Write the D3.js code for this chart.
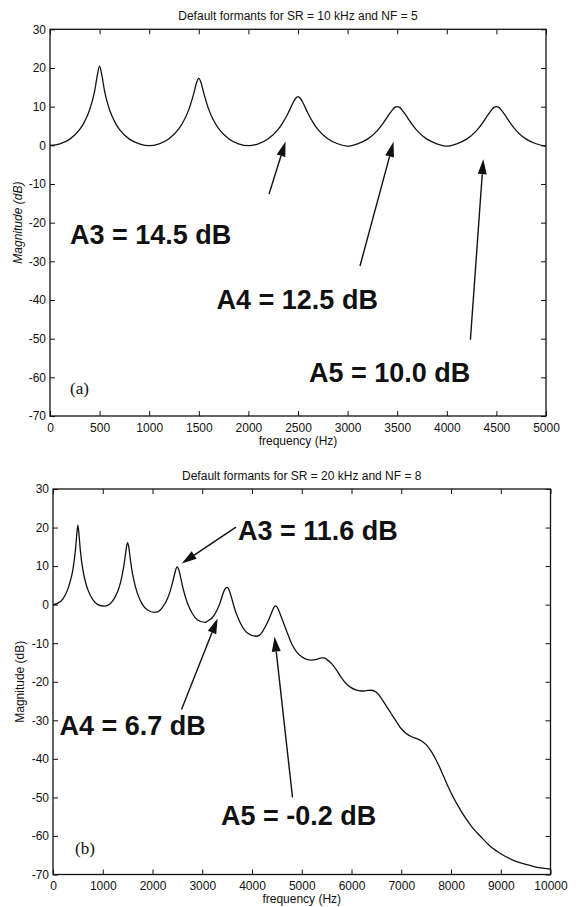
<!DOCTYPE html>
<html>
<head>
<meta charset="utf-8">
<script src="https://cdn.jsdelivr.net/npm/d3@7"></script>
<style>
body { margin: 0; background: #fff; }
text { font-family: "Liberation Sans", Arial, Helvetica, sans-serif; fill: #111; }
</style>
</head>
<body>
<script>
// Panel (a) : SR = 10 kHz, NF = 5
const freqA = [
  0, 100, 200, 300, 350, 400, 450, 475, 500, 525, 550, 600, 650, 700, 800, 900,
  1000, 1100, 1200, 1300, 1350, 1400, 1450, 1475, 1500, 1525, 1550, 1600, 1650, 1700, 1800, 1900,
  2000, 2100, 2200, 2300, 2350, 2400, 2450, 2475, 2500, 2525, 2550, 2600, 2650, 2700, 2800, 2900,
  3000, 3100, 3200, 3300, 3350, 3400, 3450, 3475, 3500, 3525, 3550, 3600, 3650, 3700, 3800, 3900,
  4000, 4100, 4200, 4300, 4350, 4400, 4450, 4475, 4500, 4525, 4550, 4600, 4650, 4700, 4800, 4900,
  5000];
const magA = [
  0, 0.4, 1.6, 4.1, 6.2, 9.2, 14.0, 17.8, 20.5, 17.8, 14.0, 9.2, 6.2, 4.1, 1.6, 0.4,
  -0.1, 0.4, 1.7, 4.3, 6.4, 9.3, 13.5, 16.0, 17.3, 16.0, 13.5, 9.3, 6.4, 4.3, 1.7, 0.4,
  -0.1, 0.4, 1.7, 4.1, 6.0, 8.3, 11.0, 12.1, 12.6, 12.1, 11.0, 8.3, 6.0, 4.1, 1.7, 0.4,
  -0.2, 0.4, 1.6, 3.8, 5.4, 7.3, 9.1, 9.8, 10.0, 9.8, 9.1, 7.3, 5.4, 3.8, 1.6, 0.4,
  -0.2, 0.4, 1.6, 3.8, 5.4, 7.3, 9.1, 9.8, 10.0, 9.8, 9.1, 7.3, 5.4, 3.8, 1.6, 0.4,
  -0.3];

// Panel (b) : SR = 20 kHz, NF = 8
const freqB = [
  0, 100, 200, 300, 350, 400, 450, 475, 500, 525, 550, 600, 650, 700, 800, 900,
  1030, 1100, 1200, 1300, 1350, 1400, 1450, 1475, 1500, 1525, 1550, 1600, 1650, 1700, 1800, 1900,
  2040, 2100, 2200, 2300, 2350, 2400, 2450, 2475, 2500, 2525, 2550, 2600, 2650, 2700, 2800, 2900,
  3060, 3100, 3200, 3300, 3350, 3400, 3450, 3475, 3500, 3525, 3550, 3600, 3650, 3700, 3800, 3900,
  4080, 4150, 4200, 4300, 4350, 4400, 4450, 4475, 4500, 4550, 4600, 4650, 4700, 4800, 4900, 5000,
  5100, 5200, 5300, 5400, 5450, 5500, 5600, 5700, 5800, 5900, 6000, 6100, 6200, 6300, 6400, 6500,
  6600, 6700, 6800, 6900, 7000, 7100, 7200, 7300, 7400, 7500, 7600, 7700, 7800, 7900, 8000,
  8200, 8400, 8600, 8800, 9000, 9200, 9400, 9600, 9800, 10000];
const magB = [
  0, 0.4, 1.5, 4.1, 6.2, 9.1, 14.0, 17.8, 20.6, 17.8, 14.0, 9.1, 6.0, 3.9, 1.3, 0.0,
  -0.4, -0.2, 1.0, 3.4, 5.4, 8.3, 12.4, 14.8, 16.1, 14.8, 12.2, 7.9, 5.0, 2.8, 0.0, -1.4,
  -2.0, -1.9, -0.7, 1.5, 3.3, 5.6, 8.2, 9.4, 9.8, 9.2, 8.0, 5.0, 2.5, 0.5, -2.3, -3.9,
  -4.6, -4.3, -3.4, -1.3, 0.2, 2.2, 3.9, 4.3, 4.5, 4.2, 3.4, 1.3, -1.0, -2.8, -5.6, -7.3,
  -8.2, -7.9, -7.2, -4.9, -3.5, -1.9, -0.5, -0.3, -0.5, -1.9, -3.6, -5.3, -7.0, -10.2, -12.3, -13.5,
  -14.2, -14.4, -14.2, -13.8, -13.8, -14.2, -15.3, -17.0, -19.0, -20.6, -21.6, -22.2, -22.4, -22.3, -22.2, -22.7,
  -24.3, -26.3, -28.3, -30.3, -32.2, -33.4, -34.2, -34.7, -35.3, -36.3, -38.0, -40.3, -43.0, -46.0, -48.8,
  -53.5, -57.3, -60.2, -62.8, -64.6, -66.0, -67.0, -67.7, -68.3, -68.6];

// tick labels
const yTicks = [30, 20, 10, 0, -10, -20, -30, -40, -50, -60, -70];
const xTicksA = [0, 500, 1000, 1500, 2000, 2500, 3000, 3500, 4000, 4500, 5000];
const xTicksB = [0, 1000, 2000, 3000, 4000, 5000, 6000, 7000, 8000, 9000, 10000];

// annotations, in data units (Hz, dB)
const labelsA = [
  {text: "A3 = 14.5 dB", f: 202, m: -25.5},
  {text: "A4 = 12.5 dB", f: 1679, m: -42.3},
  {text: "A5 = 10.0 dB", f: 2611, m: -61.1}];
const arrowsA = [
  {f0: 2208, m0: -12.6, f1: 2374, m1: 1.0},
  {f0: 3125, m0: -31.2, f1: 3463, m1: 0.9},
  {f0: 4238, m0: -50.3, f1: 4368, m1: -3.6}];
const labelsB = [
  {text: "A3 = 11.6 dB", f: 3719, m: 16.8},
  {text: "A4 = 6.7 dB", f: 129, m: -33.8},
  {text: "A5 = -0.2 dB", f: 3377, m: -57.1}];
const arrowsB = [
  {f0: 3678, m0: 20.1, f1: 2587, m1: 10.7},
  {f0: 2583, m0: -27.2, f1: 3308, m1: -3.6},
  {f0: 4814, m0: -50.0, f1: 4454, m1: -8.3}];

const svg = d3.select("body").append("svg")
    .attr("width", 581)
    .attr("height", 907);

// plain numbers, hyphen minus, no thousands separator
const plain = d => String(d);

function drawPanel(p) {
    const x = d3.scaleLinear().domain([0, p.xMax]).range([p.left, p.right]);
    const y = d3.scaleLinear().domain([-70, 30]).range([p.bottom, p.top]);
    const g = svg.append("g");

    // axes, ticks pointing inwards like matlab
    g.append("g")
        .attr("transform", `translate(0,${p.bottom})`)
        .call(d3.axisBottom(x).tickValues(p.xTicks).tickFormat(plain)
            .tickSizeInner(-5).tickSizeOuter(0).tickPadding(7));
    g.append("g")
        .attr("transform", `translate(0,${p.top})`)
        .call(d3.axisTop(x).tickValues(p.xTicks).tickSizeInner(-5).tickSizeOuter(0).tickFormat(""));
    g.append("g")
        .attr("transform", `translate(${p.left},0)`)
        .call(d3.axisLeft(y).tickValues(yTicks).tickFormat(plain)
            .tickSizeInner(-5).tickSizeOuter(0).tickPadding(4));
    g.append("g")
        .attr("transform", `translate(${p.right},0)`)
        .call(d3.axisRight(y).tickValues(yTicks).tickSizeInner(-5).tickSizeOuter(0).tickFormat(""));
    g.selectAll(".domain").remove();
    g.selectAll(".tick line").attr("stroke", "#111").attr("stroke-width", 1);
    g.selectAll(".tick text")
        .style("font-family", '"Liberation Sans", Arial, sans-serif')
        .style("font-size", "12px")
        .attr("fill", "#111");

    g.append("rect")
        .attr("x", p.left).attr("y", p.top)
        .attr("width", p.right - p.left).attr("height", p.bottom - p.top)
        .attr("fill", "none").attr("stroke", "#111").attr("stroke-width", 1.3);

    // title and axis labels
    g.append("text")
        .attr("x", (p.left + p.right) / 2).attr("y", p.top - 9.5)
        .attr("text-anchor", "middle").style("font-size", "12px")
        .text(p.title);
    g.append("text")
        .attr("x", (p.left + p.right) / 2).attr("y", p.bottom + 28.5)
        .attr("text-anchor", "middle").style("font-size", "12px")
        .text("frequency (Hz)");
    g.append("text")
        .attr("transform", `translate(${p.ylabX},${(p.top + p.bottom) / 2}) rotate(-90)`)
        .attr("text-anchor", "middle").style("font-size", "12px")
        .style("font-style", p.italic ? "italic" : "normal")
        .text("Magnitude (dB)");

    // response curve
    const line = d3.line()
        .x(d => x(d[0]))
        .y(d => y(d[1]))
        .curve(d3.curveMonotoneX);
    g.append("path")
        .datum(d3.zip(p.freq, p.mag))
        .attr("d", line)
        .attr("fill", "none")
        .attr("stroke", "#111")
        .attr("stroke-width", 1.3);

    // panel letter
    g.append("text")
        .attr("x", x(p.letterPos[0])).attr("y", y(p.letterPos[1]))
        .style("font-family", '"Liberation Serif", "Times New Roman", serif')
        .style("font-size", "17px")
        .text(p.letter);

    // bold annotations
    g.selectAll(".ann").data(p.labels).enter().append("text")
        .attr("x", d => x(d.f)).attr("y", d => y(d.m))
        .style("font-size", "27px").style("font-weight", "bold")
        .text(d => d.text);

    // arrows
    p.arrows.forEach(a => {
        const x0 = x(a.f0), y0 = y(a.m0), x1 = x(a.f1), y1 = y(a.m1);
        const len = Math.hypot(x1 - x0, y1 - y0);
        const ux = (x1 - x0) / len, uy = (y1 - y0) / len;
        const hl = 15, hw = 4.5;
        const bx = x1 - ux * hl, by = y1 - uy * hl;
        g.append("line")
            .attr("x1", x0).attr("y1", y0).attr("x2", bx).attr("y2", by)
            .attr("stroke", "#111").attr("stroke-width", 1.4);
        g.append("path")
            .attr("d", `M${x1},${y1}L${bx - uy * hw},${by + ux * hw}L${bx + uy * hw},${by - ux * hw}Z`)
            .attr("fill", "#111");
    });
}

drawPanel({
    left: 50, right: 546, top: 29.3, bottom: 416, xMax: 5000,
    xTicks: xTicksA, freq: freqA, mag: magA,
    title: "Default formants for SR = 10 kHz and NF = 5",
    ylabX: 22, italic: true,
    letter: "(a)", letterPos: [202, -64.3],
    labels: labelsA, arrows: arrowsA
});
drawPanel({
    left: 53, right: 550.5, top: 489, bottom: 874.5, xMax: 10000,
    xTicks: xTicksB, freq: freqB, mag: magB,
    title: "Default formants for SR = 20 kHz and NF = 8",
    ylabX: 24, italic: false,
    letter: "(b)", letterPos: [442, -64.7],
    labels: labelsB, arrows: arrowsB
});
</script>
</body>
</html>
